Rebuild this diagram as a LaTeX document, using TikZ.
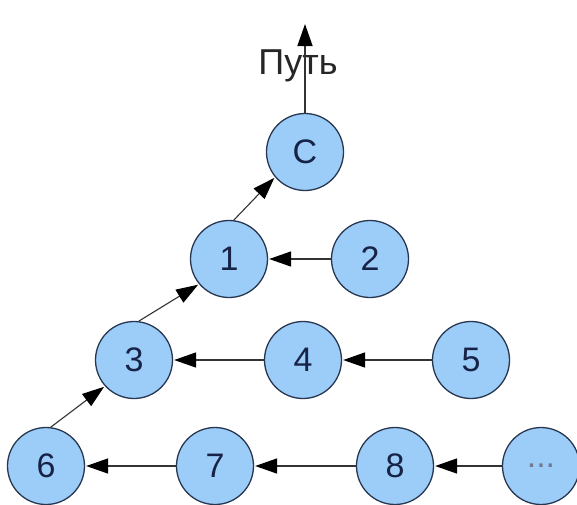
\documentclass[tikz,border=0pt]{standalone}
\usepackage{fontspec}
\setmainfont{Liberation Sans}
\usetikzlibrary{arrows.meta}
\definecolor{nodefill}{RGB}{156,204,248}
\definecolor{nodeline}{RGB}{40,55,80}
\definecolor{nodetext}{RGB}{22,34,70}
\tikzset{
  vert/.style={circle, draw=nodeline, line width=1.3pt, fill=nodefill, minimum size=77pt, inner sep=0pt, text=nodetext, font=\fontsize{34}{34}\selectfont},
  link/.style={draw=black!80, line width=1.5pt, -{Triangle[length=22pt,width=15pt,color=black]}, shorten >=1pt},
  diag/.style={link, line width=1.1pt}
}
\begin{document}
\begin{tikzpicture}[x=1pt,y=-1pt]
\useasboundingbox (0,0) rectangle (577,504);
\fill[white] (0,0) rectangle (577,504);
\node[vert] (C) at (305,152) {C};
\node[vert] (n1) at (229,259) {1};
\node[vert] (n2) at (370,259) {2};
\node[vert] (n3) at (134,360) {3};
\node[vert] (n4) at (303,360) {4};
\node[vert] (n5) at (471,360) {5};
\node[vert] (n6) at (46,466) {6};
\node[vert] (n7) at (215,466) {7};
\node[vert] (n8) at (395,466) {8};
\node[vert, text=nodetext!60] (n9) at (541,466) {...};
\node[font=\fontsize{36}{36}\selectfont, text=black!85] (path) at (298,66) {Путь};
\coordinate (top) at (305,23);
\draw[link] (C) -- (top);
\draw[diag] (n1.83) -- (C.220);
\draw[link] (n2) -- (n1);
\draw[diag] (n3.83) -- (n1.220);
\draw[link] (n4) -- (n3);
\draw[link] (n5) -- (n4);
\draw[diag] (n6.83) -- (n3.222);
\draw[link] (n7) -- (n6);
\draw[link] (n8) -- (n7);
\draw[link] (n9) -- (n8);
\end{tikzpicture}
\end{document}
